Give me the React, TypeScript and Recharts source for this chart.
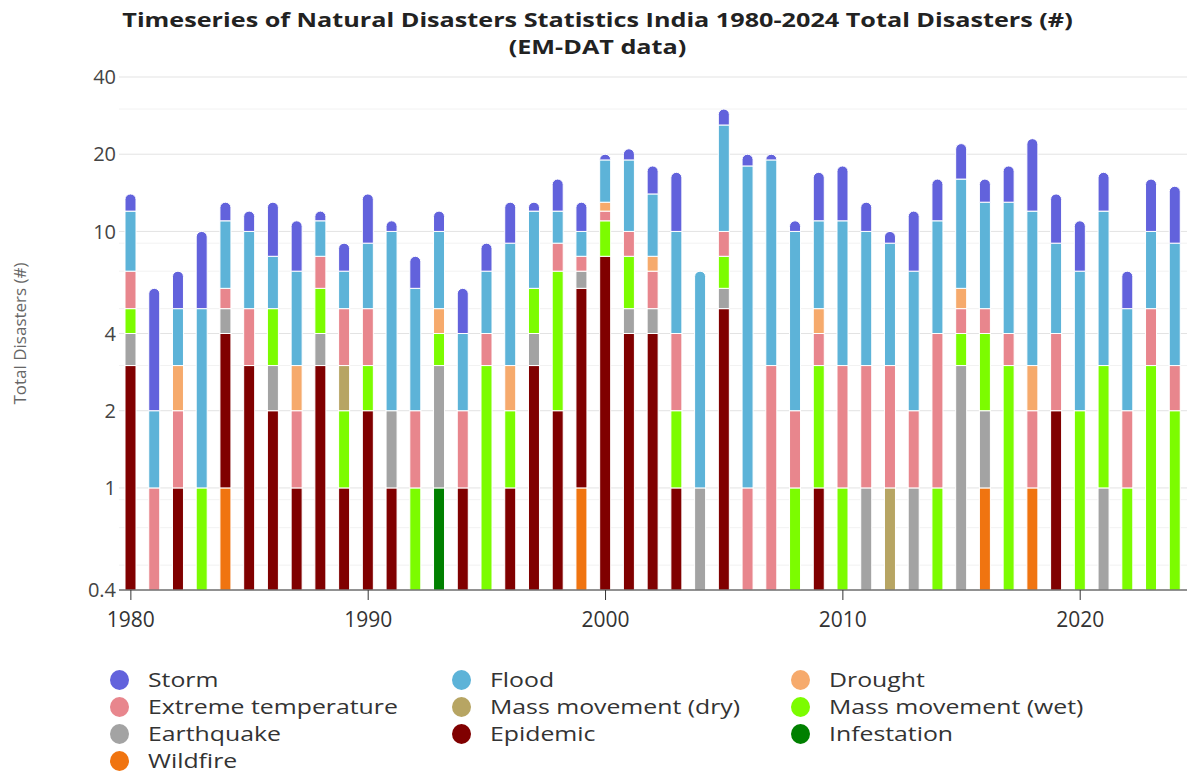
import React from "react";
import { BarChart, Bar, XAxis, YAxis, CartesianGrid } from "recharts";

const years = [
  1980, 1981, 1982, 1983, 1984, 1985, 1986, 1987, 1988, 1989,
  1990, 1991, 1992, 1993, 1994, 1995, 1996, 1997, 1998, 1999,
  2000, 2001, 2002, 2003, 2004, 2005, 2006, 2007, 2008, 2009,
  2010, 2011, 2012, 2013, 2014, 2015, 2016, 2017, 2018, 2019,
  2020, 2021, 2022, 2023, 2024,
];

// disaster counts per year (EM-DAT, India)
const storm = [
  2, 4, 2, 5, 2, 2, 5, 4, 1, 2,
  5, 1, 2, 2, 2, 2, 4, 1, 4, 3,
  1, 2, 4, 7, 0, 4, 2, 1, 1, 6,
  7, 3, 1, 5, 5, 6, 3, 5, 11, 5,
  4, 5, 2, 6, 6,
];
const flood = [
  5, 1, 2, 4, 5, 5, 3, 4, 3, 2,
  4, 8, 4, 5, 2, 3, 6, 6, 3, 2,
  6, 9, 6, 6, 6, 16, 17, 16, 8, 6,
  8, 7, 6, 5, 7, 10, 8, 9, 9, 5,
  5, 9, 3, 5, 6,
];
const drought = [
  0, 0, 1, 0, 0, 0, 0, 1, 0, 0,
  0, 0, 0, 1, 0, 0, 1, 0, 0, 0,
  1, 0, 1, 0, 0, 0, 0, 0, 0, 1,
  0, 0, 0, 0, 0, 1, 0, 0, 1, 0,
  0, 0, 0, 0, 0,
];
const extremeTemp = [
  2, 1, 1, 0, 1, 2, 0, 1, 2, 2,
  2, 0, 1, 0, 1, 1, 0, 0, 2, 1,
  1, 2, 2, 2, 0, 2, 1, 3, 1, 1,
  2, 2, 2, 1, 3, 1, 1, 1, 1, 2,
  0, 0, 1, 2, 1,
];
const massDry = [
  0, 0, 0, 0, 0, 0, 0, 0, 0, 1,
  0, 0, 0, 0, 0, 0, 0, 0, 0, 0,
  0, 0, 0, 0, 0, 0, 0, 0, 0, 0,
  0, 0, 1, 0, 0, 0, 0, 0, 0, 0,
  0, 0, 0, 0, 0,
];
const massWet = [
  1, 0, 0, 1, 0, 0, 2, 0, 2, 1,
  1, 0, 1, 1, 0, 3, 1, 2, 5, 0,
  3, 3, 0, 1, 0, 2, 0, 0, 1, 2,
  1, 0, 0, 0, 1, 1, 2, 3, 0, 0,
  2, 2, 1, 3, 2,
];
const earthquake = [
  1, 0, 0, 0, 1, 0, 1, 0, 1, 0,
  0, 1, 0, 2, 0, 0, 0, 1, 0, 1,
  0, 1, 1, 0, 1, 1, 0, 0, 0, 0,
  0, 1, 0, 1, 0, 3, 1, 0, 0, 0,
  0, 1, 0, 0, 0,
];
const epidemic = [
  3, 0, 1, 0, 3, 3, 2, 1, 3, 1,
  2, 1, 0, 0, 1, 0, 1, 3, 2, 5,
  8, 4, 4, 1, 0, 5, 0, 0, 0, 1,
  0, 0, 0, 0, 0, 0, 0, 0, 0, 2,
  0, 0, 0, 0, 0,
];
const infestation = [
  0, 0, 0, 0, 0, 0, 0, 0, 0, 0,
  0, 0, 0, 1, 0, 0, 0, 0, 0, 0,
  0, 0, 0, 0, 0, 0, 0, 0, 0, 0,
  0, 0, 0, 0, 0, 0, 0, 0, 0, 0,
  0, 0, 0, 0, 0,
];
const wildfire = [
  0, 0, 0, 0, 1, 0, 0, 0, 0, 0,
  0, 0, 0, 0, 0, 0, 0, 0, 0, 1,
  0, 0, 0, 0, 0, 0, 0, 0, 0, 0,
  0, 0, 0, 0, 0, 0, 1, 0, 1, 0,
  0, 0, 0, 0, 0,
];

const titleLines = [
  "Timeseries of Natural Disasters Statistics India 1980-2024 Total Disasters (#)",
  "(EM-DAT data)",
];
const yTicks = [0.4, 1, 2, 4, 10, 20, 40];
const minorGrid = [0.5, 0.6, 0.7, 0.8, 0.9, 3, 5, 6, 7, 8, 9, 30];

// legend order (top of stack first)
const series = [
  { key: "storm", name: "Storm", color: "#6262dc", values: storm },
  { key: "flood", name: "Flood", color: "#5db3d8", values: flood },
  { key: "drought", name: "Drought", color: "#f6aa6c", values: drought },
  { key: "extremeTemp", name: "Extreme temperature", color: "#e8868d", values: extremeTemp },
  { key: "massDry", name: "Mass movement (dry)", color: "#b7a563", values: massDry },
  { key: "massWet", name: "Mass movement (wet)", color: "#7cfc00", values: massWet },
  { key: "earthquake", name: "Earthquake", color: "#a3a3a3", values: earthquake },
  { key: "epidemic", name: "Epidemic", color: "#800000", values: epidemic },
  { key: "infestation", name: "Infestation", color: "#008000", values: infestation },
  { key: "wildfire", name: "Wildfire", color: "#f07410", values: wildfire },
];

// bottom of the stack first
const stackOrder = [...series].reverse();

const data = years.map((year, i) => {
  const row: Record<string, number> = { year };
  series.forEach((s) => {
    row[s.key] = s.values[i];
  });
  return row;
});

const FONT = "'Open Sans', sans-serif";

// only the highest non-empty segment of each year gets the rounded cap
function makeShape(key: string) {
  const idx = stackOrder.findIndex((s) => s.key === key);
  const above = stackOrder.slice(idx + 1).map((s) => s.key);
  return (props: any) => {
    const { x, y, width, height, fill, payload } = props;
    if (!height || height <= 0 || !isFinite(y)) return <g />;
    const isTop = above.every((k) => !payload[k]);
    if (!isTop) {
      return <rect x={x} y={y} width={width} height={height} fill={fill} stroke="#fff" strokeWidth={1} />;
    }
    const r = Math.min(width / 2, height);
    const d = `M${x},${y + height} L${x},${y + r} A${r},${r} 0 0 1 ${x + r},${y} L${x + width - r},${y} A${r},${r} 0 0 1 ${x + width},${y + r} L${x + width},${y + height} Z`;
    return <path d={d} fill={fill} stroke="#fff" strokeWidth={1} />;
  };
}

function LegendBlock() {
  const cols = [110, 452, 791];
  return (
    <div style={{ position: "absolute", left: 0, top: 669, width: 1195 }}>
      {series.map((s, i) => (
        <div
          key={s.key}
          style={{
            position: "absolute",
            left: cols[i % 3],
            top: Math.floor(i / 3) * 27,
            display: "flex",
            alignItems: "center",
            height: 22,
            lineHeight: "22px",
            fontSize: 20,
            color: "#333",
            fontFamily: FONT,
            whiteSpace: "nowrap",
          }}
        >
          <span
            style={{
              display: "inline-block",
              width: 19,
              height: 20,
              borderRadius: "50%",
              background: s.color,
              marginRight: 19,
            }}
          />
          <span style={{ display: "inline-block", transform: "scaleX(1.24)", transformOrigin: "left center" }}>
            {s.name}
          </span>
        </div>
      ))}
    </div>
  );
}

export default function App() {
  return (
    <div
      style={{
        position: "absolute",
        left: 0,
        top: 0,
        width: 1195,
        height: 775,
        background: "#fff",
        fontFamily: FONT,
        overflow: "hidden",
      }}
    >
      {titleLines.map((line, i) => (
        <div
          key={i}
          style={{
            position: "absolute",
            left: 0,
            top: 6 + i * 27,
            width: 1195,
            textAlign: "center",
            fontWeight: 700,
            fontSize: 20,
            lineHeight: "27px",
            color: "#222",
            transform: "scaleX(1.26)",
            transformOrigin: "center",
          }}
        >
          {line}
        </div>
      ))}
      <div style={{ position: "absolute", left: 0, top: 0 }}>
        <BarChart
          width={1195}
          height={650}
          data={data}
          margin={{ top: 77, right: 8, left: 0, bottom: 20 }}
          barSize={11}
        >
          <CartesianGrid vertical={false} horizontalValues={minorGrid} stroke="#f2f2f2" />
          <CartesianGrid vertical={false} stroke="#e3e3e3" />
          <XAxis
            dataKey="year"
            interval={9}
            height={40}
            tickSize={10}
            tickMargin={12}
            axisLine={{ stroke: "#333" }}
            tickLine={{ stroke: "#333" }}
            tick={{ fontSize: 21, fill: "#333", fontFamily: FONT }}
          />
          <YAxis
            scale="log"
            domain={[0.4, 40]}
            allowDataOverflow
            ticks={yTicks}
            width={119}
            axisLine={false}
            tickLine={false}
            tickSize={0}
            tickMargin={3}
            tick={{ fontSize: 20, fill: "#444", fontFamily: FONT }}
            label={{
              value: "Total Disasters (#)",
              angle: -90,
              position: "insideLeft",
              offset: 20,
              style: { textAnchor: "middle", fontSize: 17, fill: "#666", fontFamily: FONT },
            }}
          />
          {stackOrder.map((s) => (
            <Bar
              key={s.key}
              dataKey={s.key}
              name={s.name}
              stackId="total"
              fill={s.color}
              isAnimationActive={false}
              shape={makeShape(s.key)}
            />
          ))}
        </BarChart>
      </div>
      <LegendBlock />
    </div>
  );
}
